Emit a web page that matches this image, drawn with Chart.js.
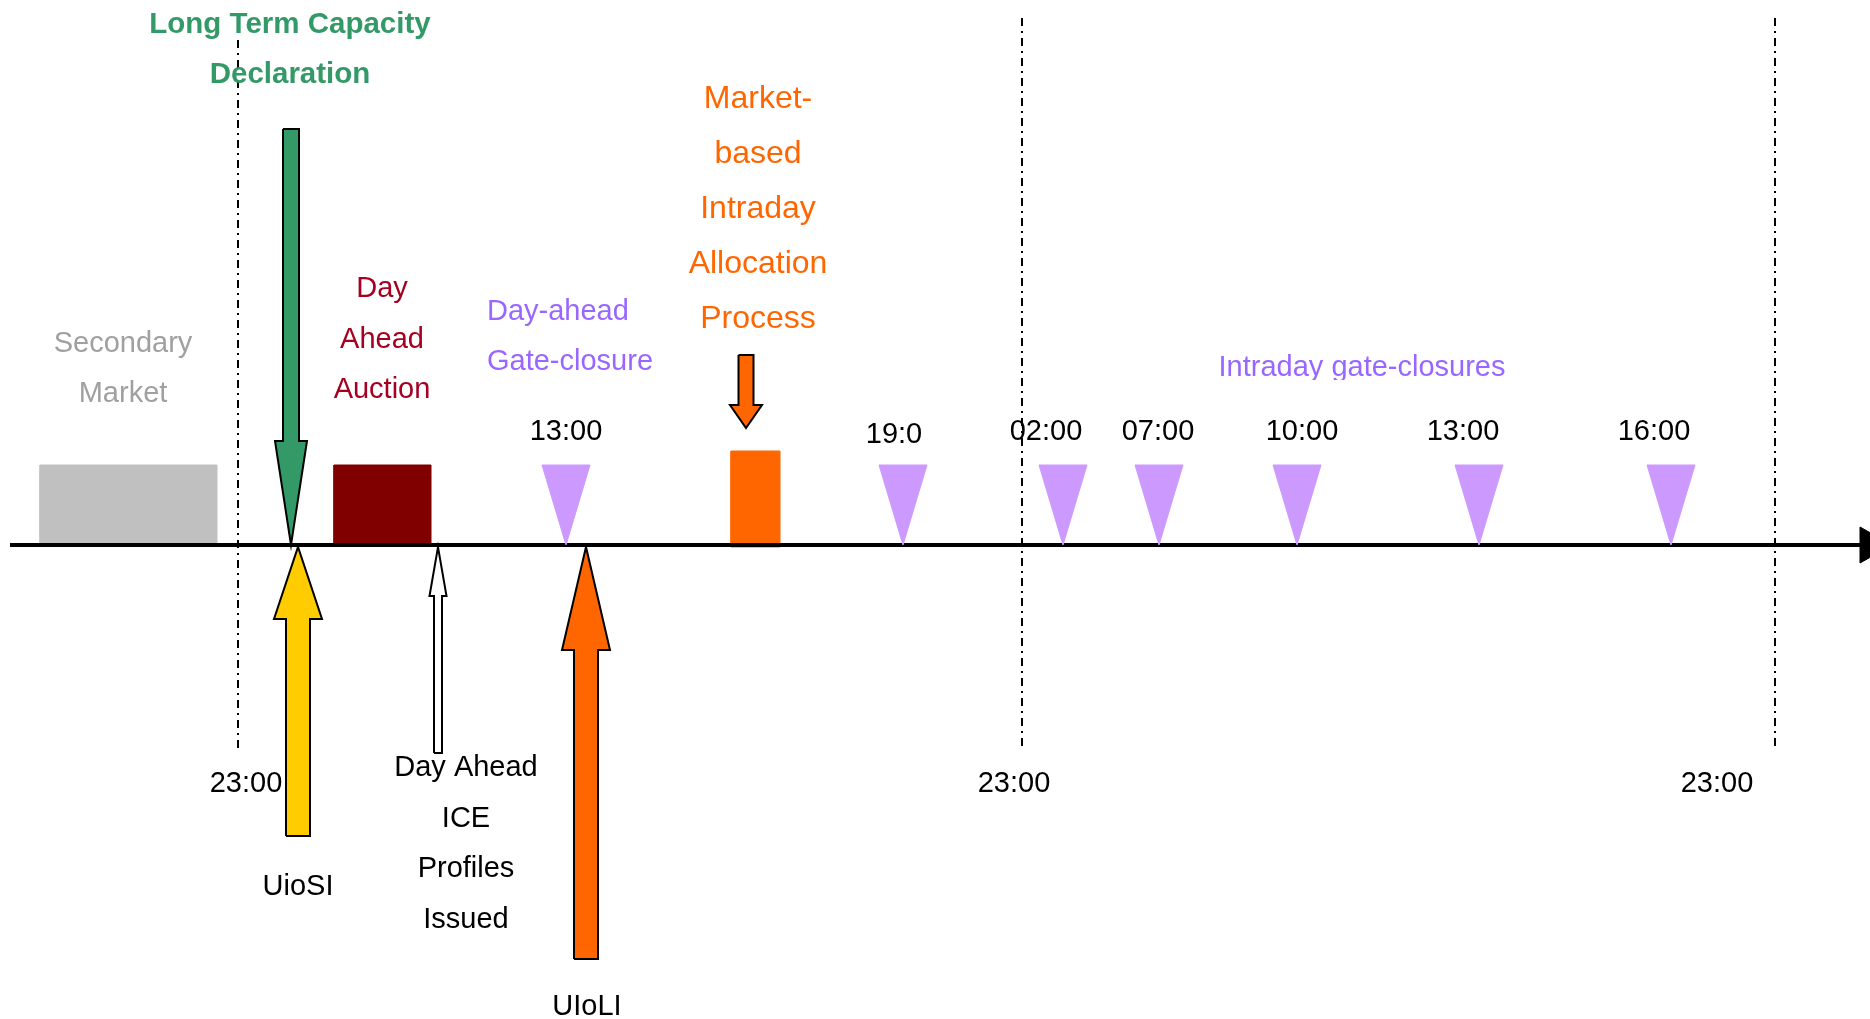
<!DOCTYPE html>
<html>
<head>
<meta charset="utf-8">
<script src="https://cdn.jsdelivr.net/npm/chart.js@4.4.1/dist/chart.umd.min.js"></script>
<style>
    html, body { margin: 0; padding: 0; background: #fff; }
    #wrap { position: relative; width: 1870px; height: 1019px; }
</style>
</head>
<body>
<div id="wrap"><canvas id="timeline"></canvas></div>
<script>
// --- Timeline values (x = position along the timeline, y = height above the axis) ---
const blockNames = ['Secondary Market', 'Day Ahead Auction', 'Intraday Allocation'];
const blockStart = [40, 334, 731];
const blockEnd = [217, 431, 780];
const blockTop = [80, 80, 94];
const blockBottom = [0, 0, -2];

const gateTimes = ['13:00', '19:0', '02:00', '07:00', '10:00', '13:00', '16:00'];
const gatePos = [566, 903, 1063, 1159, 1297, 1479, 1671];
const gateLabelPos = [566, 894, 1046, 1158, 1302, 1463, 1654];
const gateLabelY = [113, 110, 113, 113, 113, 113, 113];

const dayBreakLabels = ['23:00', '23:00', '23:00'];
const dayBreakPos = [238, 1022, 1775];
const dayBreakTop = [505, 527, 527];
const dayBreakBottom = [-206, -206, -206];
const dayBreakLabelPos = [246, 1014, 1717];
const dayBreakLabelY = -239;

const arrowNames = ['Long Term Capacity Declaration', 'Market-based Intraday Allocation Process', 'UioSI', 'Day Ahead ICE Profiles Issued', 'UIoLI'];
const arrowPos = [291, 746, 298, 438, 586];
const arrowTip = [0, 117, -2, -2, -2];
const arrowHeadBase = [104, 140, -74, -51, -105];
const arrowTail = [416, 190, -291, -208, -414];

const noteText = [
    ['Long Term Capacity', 'Declaration'],
    ['Secondary', 'Market'],
    ['Day', 'Ahead', 'Auction'],
    ['Day-ahead', 'Gate-closure'],
    ['Market-', 'based', 'Intraday', 'Allocation', 'Process'],
    ['Intraday gate-closures'],
    ['UioSI'],
    ['Day Ahead', 'ICE', 'Profiles', 'Issued'],
    ['UIoLI']
];
const noteX = [290, 123, 382, 487, 758, 1362, 298, 466, 587];
const noteY = [520, 201, 256, 233, 446, 177, -342, -223, -462];

// --- Styles ---
const blockColors = ['#C0C0C0', '#800000', '#FF6600'];
const gateColor = '#CC99FF';
const gateHalfWidth = 24;
const gateHeight = 80;
const arrowColors = ['#339966', '#FF6600', '#FFCC00', '#FFFFFF', '#FF6600'];
const arrowShaftHalf = [8, 7.5, 12, 4, 12];
const arrowHeadHalf = [16, 16, 24, 8.5, 24];
const noteColor = ['#339966', '#A0A0A0', '#A50021', '#9966FF', '#FF6600', '#9966FF', '#000', '#000', '#000'];
const noteBold = [true, false, false, false, false, false, false, false, false];
const noteSize = [29.5, 29, 29, 29, 32, 29, 29, 29, 29];
const noteAlign = ['center', 'center', 'center', 'left', 'center', 'center', 'center', 'center', 'center'];
const noteStep = [50, 50, 50.5, 50, 55, 0, 0, 50.5, 0];
const noteClip = [null, null, null, null, null, 165, null, null, null];
const FONT = '"Liberation Sans", Arial, sans-serif';
const FONT_SIZE = 29;

// --- Shape helpers (build polygons from the values above) ---
function rectPoints(x0, x1, y0, y1) {
    return [{x: x0, y: y0}, {x: x1, y: y0}, {x: x1, y: y1}, {x: x0, y: y1}, {x: x0, y: y0}];
}

function arrowPoints(x, tip, headBase, tail, shaft, head) {
    return [
        {x: x - shaft, y: tail}, {x: x + shaft, y: tail},
        {x: x + shaft, y: headBase}, {x: x + head, y: headBase},
        {x: x, y: tip},
        {x: x - head, y: headBase}, {x: x - shaft, y: headBase},
        {x: x - shaft, y: tail}
    ];
}

function shape(label, points, fillColor, border, width, order) {
    return {
        label: label,
        data: points,
        fill: 'shape',
        backgroundColor: fillColor,
        borderColor: border,
        borderWidth: width,
        borderJoinStyle: 'miter',
        pointRadius: 0,
        tension: 0,
        order: order
    };
}

const datasets = [];

// arrows on top
arrowNames.forEach((name, i) => {
    datasets.push(shape(name,
        arrowPoints(arrowPos[i], arrowTip[i], arrowHeadBase[i], arrowTail[i], arrowShaftHalf[i], arrowHeadHalf[i]),
        arrowColors[i], '#000', 2, 1));
});

// gate-closure triangles
gatePos.forEach((x, i) => {
    datasets.push(shape('Gate ' + gateTimes[i], [
        {x: x - gateHalfWidth, y: gateHeight}, {x: x + gateHalfWidth, y: gateHeight},
        {x: x, y: 0}, {x: x - gateHalfWidth, y: gateHeight}
    ], gateColor, gateColor, 1, 2));
});

// time axis with arrow head
datasets.push({
    label: 'Axis', data: [{x: 10, y: 0}, {x: 1860, y: 0}],
    borderColor: '#000', borderWidth: 4, pointRadius: 0, fill: false, order: 3
});
datasets.push(shape('Axis head', [{x: 1860, y: 18}, {x: 1892, y: 0}, {x: 1860, y: -18}, {x: 1860, y: 18}], '#000', '#000', 1, 3));

// day boundaries
dayBreakPos.forEach((x, i) => {
    datasets.push({
        label: 'Day break ' + i, data: [{x: x, y: dayBreakTop[i]}, {x: x, y: dayBreakBottom[i]}],
        borderColor: '#000', borderWidth: 2, borderDash: [8, 5, 2, 5], pointRadius: 0, fill: false, order: 4
    });
});

// blocks
blockNames.forEach((name, i) => {
    datasets.push(shape(name, rectPoints(blockStart[i], blockEnd[i], blockBottom[i], blockTop[i]),
        blockColors[i], blockColors[i], 1, 5));
});

// --- Text plugin ---
const textPlugin = {
    id: 'timelineText',
    afterDatasetsDraw(chart) {
        const {ctx, scales: {x, y}} = chart;
        ctx.save();
        ctx.textBaseline = 'middle';

        noteText.forEach((lines, i) => {
            ctx.save();
            if (noteClip[i] !== null) {
                ctx.beginPath();
                ctx.rect(0, 0, chart.width, y.getPixelForValue(noteClip[i]));
                ctx.clip();
            }
            ctx.font = (noteBold[i] ? 'bold ' : '') + noteSize[i] + 'px ' + FONT;
            ctx.fillStyle = noteColor[i];
            ctx.textAlign = noteAlign[i];
            lines.forEach((line, k) => {
                ctx.fillText(line, x.getPixelForValue(noteX[i]), y.getPixelForValue(noteY[i] - k * noteStep[i]));
            });
            ctx.restore();
        });

        ctx.font = FONT_SIZE + 'px ' + FONT;
        ctx.fillStyle = '#000';
        ctx.textAlign = 'center';
        gateTimes.forEach((t, i) => {
            ctx.fillText(t, x.getPixelForValue(gateLabelPos[i]), y.getPixelForValue(gateLabelY[i]));
        });
        dayBreakLabels.forEach((t, i) => {
            ctx.fillText(t, x.getPixelForValue(dayBreakLabelPos[i]), y.getPixelForValue(dayBreakLabelY));
        });
        ctx.restore();
    }
};

new Chart(document.getElementById('timeline'), {
    type: 'line',
    data: { datasets: datasets },
    options: {
        responsive: true,
        maintainAspectRatio: false,
        devicePixelRatio: 1,
        animation: false,
        events: [],
        layout: { padding: 0 },
        plugins: { legend: { display: false }, tooltip: { enabled: false } },
        scales: {
            x: { type: 'linear', min: 0, max: 1870, display: false },
            y: { type: 'linear', min: -474, max: 545, display: false }
        }
    },
    plugins: [textPlugin]
});
</script>
</body>
</html>
